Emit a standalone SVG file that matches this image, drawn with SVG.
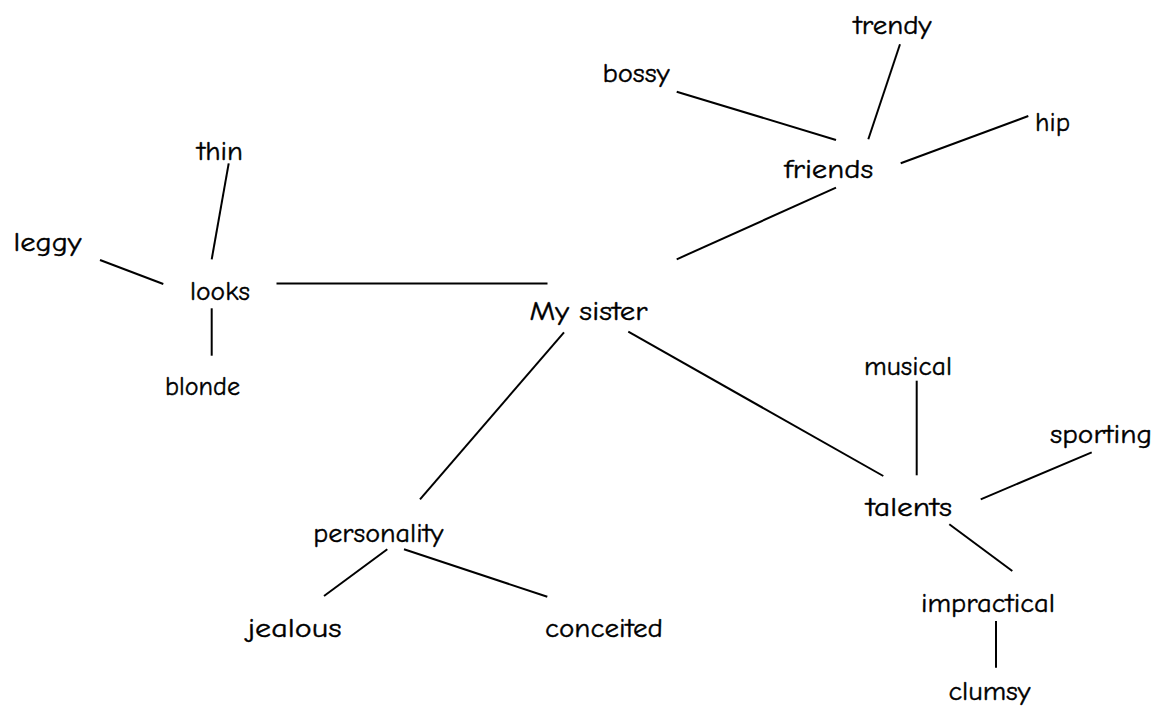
<svg xmlns="http://www.w3.org/2000/svg" width="1167" height="713" viewBox="0 0 1167 713">
<style>
text{font-family:"Comic Sans MS","Comic Neue","DejaVu Sans","Noto Sans",sans-serif;font-size:27px;fill:#000;text-anchor:middle;stroke:#000;stroke-width:0.4}
line{stroke:#000;stroke-width:2;stroke-linecap:butt}
</style>
<rect width="1167" height="713" fill="#fff"/>
<g id="connectors">
<line x1="276.5" y1="283.5" x2="547.5" y2="283.5"/>
<line x1="228.7" y1="163.3" x2="211.7" y2="259.3"/>
<line x1="100" y1="260" x2="163.3" y2="284"/>
<line x1="211.7" y1="308.3" x2="211.7" y2="355.7"/>
<line x1="836" y1="187.7" x2="676.7" y2="259.3"/>
<line x1="676.7" y1="91.7" x2="836" y2="140"/>
<line x1="900" y1="44.3" x2="868.3" y2="139.3"/>
<line x1="1028.3" y1="116" x2="900.7" y2="163.3"/>
<line x1="564" y1="332.3" x2="420" y2="499.3"/>
<line x1="387.3" y1="549.3" x2="324" y2="596"/>
<line x1="404" y1="549.3" x2="547.3" y2="596.7"/>
<line x1="628.3" y1="331.7" x2="883.3" y2="476"/>
<line x1="916.7" y1="380.7" x2="916.7" y2="475.3"/>
<line x1="1091.7" y1="452.3" x2="980.7" y2="499.3"/>
<line x1="949.3" y1="524.3" x2="1012.3" y2="571"/>
<line x1="996" y1="621" x2="996" y2="667.7"/>
</g>
<g id="my-sister"><text x="588.5" y="320" textLength="118" lengthAdjust="spacingAndGlyphs">My sister</text></g>
<g id="looks"><text x="220" y="300" textLength="60" lengthAdjust="spacingAndGlyphs">looks</text></g>
<g id="thin"><text x="220" y="159.5" textLength="46" lengthAdjust="spacingAndGlyphs">thin</text></g>
<g id="leggy"><text x="47.5" y="251" textLength="68" lengthAdjust="spacingAndGlyphs">leggy</text></g>
<g id="blonde"><text x="202.5" y="395" textLength="75" lengthAdjust="spacingAndGlyphs">blonde</text></g>
<g id="friends"><text x="828.7" y="178.3" textLength="89" lengthAdjust="spacingAndGlyphs">friends</text></g>
<g id="bossy"><text x="636" y="81.7" textLength="67" lengthAdjust="spacingAndGlyphs">bossy</text></g>
<g id="trendy"><text x="892.5" y="34" textLength="78" lengthAdjust="spacingAndGlyphs">trendy</text></g>
<g id="hip"><text x="1052.5" y="130.7" textLength="35" lengthAdjust="spacingAndGlyphs">hip</text></g>
<g id="personality"><text x="378.3" y="541.7" textLength="130" lengthAdjust="spacingAndGlyphs">personality</text></g>
<g id="jealous"><text x="294.5" y="636.7" textLength="94" lengthAdjust="spacingAndGlyphs">jealous</text></g>
<g id="conceited"><text x="604" y="636.7" textLength="118" lengthAdjust="spacingAndGlyphs">conceited</text></g>
<g id="talents"><text x="909" y="515.7" textLength="86" lengthAdjust="spacingAndGlyphs">talents</text></g>
<g id="musical"><text x="908" y="375" textLength="88" lengthAdjust="spacingAndGlyphs">musical</text></g>
<g id="sporting"><text x="1101" y="443.3" textLength="102" lengthAdjust="spacingAndGlyphs">sporting</text></g>
<g id="impractical"><text x="988" y="611.7" textLength="134" lengthAdjust="spacingAndGlyphs">impractical</text></g>
<g id="clumsy"><text x="989.5" y="700" textLength="82" lengthAdjust="spacingAndGlyphs">clumsy</text></g>
</svg>
